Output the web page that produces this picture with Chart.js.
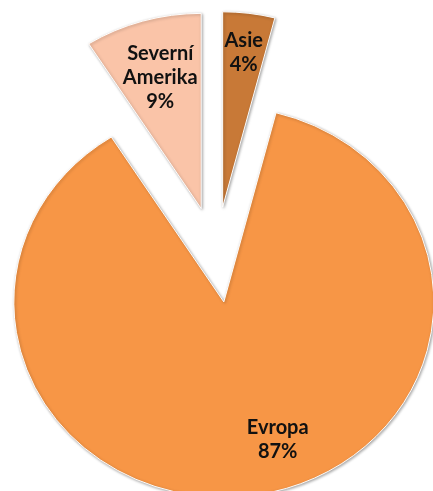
<!DOCTYPE html>
<html>
<head>
<meta charset="utf-8">
<script src="https://cdn.jsdelivr.net/npm/chart.js"></script>
<style>
  body { margin: 0; background: #ffffff; }
  #wrap { width: 433px; height: 491px; position: relative; }
</style>
</head>
<body>
<div id="wrap"><canvas id="myChart"></canvas></div>
<script>
// data
let categories = ['Asie', 'Evropa', 'Severní Amerika'];
let values = [4, 87, 9];
let colors = ['#C87937', '#F79646', '#FAC4A8'];

// look
let explode = [53, 50, 53];      // px pulled out along the slice middle
let labelRadius = [0.8, 0.75, 0.7];
let labelTurn = [0, -11, 0];     // degrees
let ySquash = 0.93;              // picture is a bit flattened

// draw slices pulled apart, whole pie squashed a little
const explodePlugin = {
  id: 'explode',
  beforeDatasetDraw(chart, args) {
    let ctx = chart.ctx;
    let arcs = args.meta.data;
    let cy = arcs[0].y;
    ctx.save();
    ctx.translate(0, cy);
    ctx.scale(1, ySquash);
    ctx.translate(0, -cy);
    ctx.shadowColor = 'rgba(0,0,0,0.35)';
    ctx.shadowBlur = 3;
    ctx.shadowOffsetX = 1;
    ctx.shadowOffsetY = 1;
    arcs.forEach((arc, i) => {
      let mid = (arc.startAngle + arc.endAngle) / 2;
      ctx.save();
      ctx.translate(Math.cos(mid) * explode[i], Math.sin(mid) * explode[i]);
      arc.draw(ctx);
      ctx.restore();
    });
    ctx.restore();
    return false;
  },
  afterDatasetsDraw(chart) {
    let ctx = chart.ctx;
    let arcs = chart.getDatasetMeta(0).data;
    ctx.save();
    ctx.font = 'bold 20px Lato';
    ctx.fillStyle = '#111111';
    ctx.textAlign = 'center';
    ctx.textBaseline = 'middle';
    arcs.forEach((arc, i) => {
      let mid = (arc.startAngle + arc.endAngle) / 2;
      let turned = mid + labelTurn[i] * Math.PI / 180;
      let r = arc.outerRadius * labelRadius[i];
      let x = arc.x + Math.cos(mid) * explode[i] + Math.cos(turned) * r;
      let y = arc.y + (Math.sin(mid) * explode[i] + Math.sin(turned) * r) * ySquash;
      let lines = categories[i].split(' ');
      lines.push(values[i] + '%');
      let top = y - (lines.length - 1) * 12;
      lines.forEach((t, k) => {
        ctx.fillText(t, x, top + k * 24);
      });
    });
    ctx.restore();
  }
};

new Chart('myChart', {
  type: 'pie',
  data: {
    labels: categories,
    datasets: [{
      data: values,
      backgroundColor: colors,
      borderColor: '#ffffff',
      borderWidth: 1,
      borderJoinStyle: 'miter',
      radius: 210
    }]
  },
  options: {
    responsive: true,
    maintainAspectRatio: false,
    animation: false,
    events: [],
    layout: { padding: { left: 0, right: 1, top: 21, bottom: 0 } },
    plugins: {
      legend: { display: false },
      tooltip: { enabled: false }
    }
  },
  plugins: [explodePlugin]
});
</script>
</body>
</html>
